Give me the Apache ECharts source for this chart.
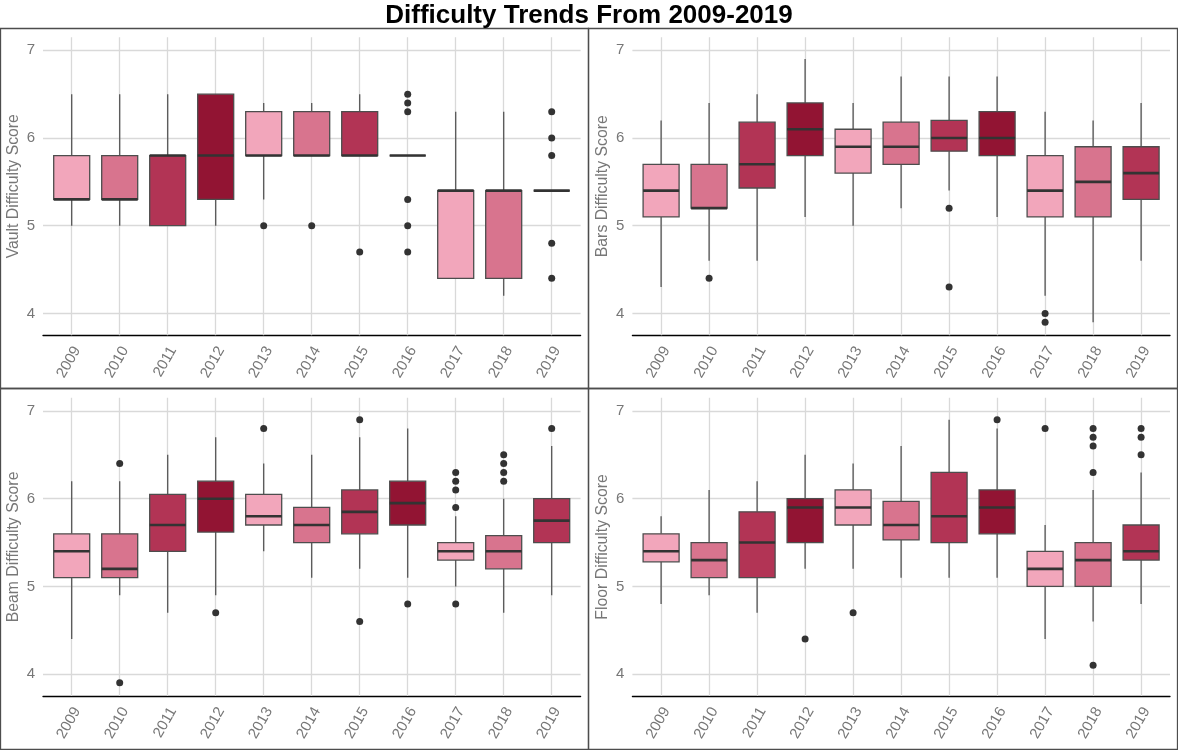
<!DOCTYPE html>
<html>
<head>
<meta charset="utf-8">
<script src="https://cdn.jsdelivr.net/npm/echarts@6/dist/echarts.min.js"></script>
<style>
  html, body { margin: 0; padding: 0; background: #fff; }
  #chart { width: 1178px; height: 750px; }
</style>
</head>
<body>
<div id="chart"></div>
<script>
const years = ['2009', '2010', '2011', '2012', '2013', '2014', '2015', '2016', '2017', '2018', '2019'];

// [min whisker, Q1, median, Q3, max whisker]
const vaultBoxes = [
  [5.0, 5.3, 5.3, 5.8, 6.5], [5.0, 5.3, 5.3, 5.8, 6.5], [5.0, 5.0, 5.8, 5.8, 6.5],
  [5.0, 5.3, 5.8, 6.5, 6.5], [5.3, 5.8, 5.8, 6.3, 6.4], [5.8, 5.8, 5.8, 6.3, 6.4],
  [5.8, 5.8, 5.8, 6.3, 6.5], [5.8, 5.8, 5.8, 5.8, 5.8], [4.4, 4.4, 5.4, 5.4, 6.3],
  [4.2, 4.4, 5.4, 5.4, 6.3], [5.4, 5.4, 5.4, 5.4, 5.4]
];
const barsBoxes = [
  [4.3, 5.1, 5.4, 5.7, 6.2], [4.6, 5.2, 5.2, 5.7, 6.4], [4.6, 5.43, 5.7, 6.18, 6.5],
  [5.1, 5.8, 6.1, 6.4, 6.9], [5.0, 5.6, 5.9, 6.1, 6.4], [5.2, 5.7, 5.9, 6.18, 6.7],
  [5.4, 5.85, 6.0, 6.2, 6.7], [5.1, 5.8, 6.0, 6.3, 6.7], [4.2, 5.1, 5.4, 5.8, 6.3],
  [3.9, 5.1, 5.5, 5.9, 6.2], [4.6, 5.3, 5.6, 5.9, 6.4]
];
const beamBoxes = [
  [4.4, 5.1, 5.4, 5.6, 6.2], [4.9, 5.1, 5.2, 5.6, 6.2], [4.7, 5.4, 5.7, 6.05, 6.5],
  [4.9, 5.62, 6.0, 6.2, 6.7], [5.4, 5.7, 5.8, 6.05, 6.4], [5.1, 5.5, 5.7, 5.9, 6.5],
  [5.2, 5.6, 5.85, 6.1, 6.7], [5.1, 5.7, 5.95, 6.2, 6.8], [5.0, 5.3, 5.4, 5.5, 5.8],
  [4.7, 5.2, 5.4, 5.58, 6.0], [4.9, 5.5, 5.75, 6.0, 6.6]
];
const floorBoxes = [
  [4.8, 5.28, 5.4, 5.6, 5.8], [4.9, 5.1, 5.3, 5.5, 6.1], [4.7, 5.1, 5.5, 5.85, 6.2],
  [5.2, 5.5, 5.9, 6.0, 6.5], [5.2, 5.7, 5.9, 6.1, 6.4], [5.1, 5.53, 5.7, 5.97, 6.6],
  [5.1, 5.5, 5.8, 6.3, 6.9], [5.1, 5.6, 5.9, 6.1, 6.8], [4.4, 5.0, 5.2, 5.4, 5.7],
  [4.6, 5.0, 5.3, 5.5, 6.1], [4.8, 5.3, 5.4, 5.7, 6.3]
];

// [year index, score]
const vaultOutliers = [
  [4, 5.0], [5, 5.0], [6, 4.7],
  [7, 6.5], [7, 6.4], [7, 6.3], [7, 5.3], [7, 5.0], [7, 4.7],
  [10, 6.3], [10, 6.0], [10, 5.8], [10, 4.8], [10, 4.4]
];
const barsOutliers = [
  [1, 4.4], [6, 5.2], [6, 4.3], [8, 4.0], [8, 3.9]
];
const beamOutliers = [
  [1, 6.4], [1, 3.9], [3, 4.7], [4, 6.8], [6, 6.9], [6, 4.6], [7, 4.8],
  [8, 6.3], [8, 6.2], [8, 6.1], [8, 5.9], [8, 4.8],
  [9, 6.5], [9, 6.4], [9, 6.3], [9, 6.2], [10, 6.8]
];
const floorOutliers = [
  [3, 4.4], [4, 4.7], [7, 6.9], [8, 6.8],
  [9, 6.8], [9, 6.7], [9, 6.6], [9, 6.3], [9, 4.1],
  [10, 6.8], [10, 6.7], [10, 6.5]
];

const yTicks = [4, 5, 6, 7];
const boxColors = ['#F2A6BB', '#D8748E', '#B23455', '#921433'];

const panels = [
  { name: 'Vault Difficulty Score', boxes: vaultBoxes, outliers: vaultOutliers, left: 43, top: 50.3 },
  { name: 'Bars Difficulty Score', boxes: barsBoxes, outliers: barsOutliers, left: 632.4, top: 50.3 },
  { name: 'Beam Difficulty Score', boxes: beamBoxes, outliers: beamOutliers, left: 43, top: 411 },
  { name: 'Floor Difficulty Score', boxes: floorBoxes, outliers: floorOutliers, left: 632.4, top: 411 }
];

const FONT = 'Liberation Sans, Arial, Helvetica, sans-serif';
const UNIT = 87.7;          // px per score point
const Y_LO = 3.75, Y_HI = 7.15;

function renderBox(params, api) {
  const i = api.value(0);
  const half = api.size([1, 0])[0] * 0.375;
  const lo = api.coord([i, api.value(1)]);
  const q1 = api.coord([i, api.value(2)]);
  const md = api.coord([i, api.value(3)]);
  const q3 = api.coord([i, api.value(4)]);
  const hi = api.coord([i, api.value(5)]);
  const x = lo[0];
  const whisker = { stroke: '#555', lineWidth: 1.3 };
  return {
    type: 'group',
    children: [
      { type: 'line', shape: { x1: x, y1: hi[1], x2: x, y2: q3[1] }, style: whisker },
      { type: 'line', shape: { x1: x, y1: q1[1], x2: x, y2: lo[1] }, style: whisker },
      {
        type: 'rect',
        shape: { x: x - half, y: q3[1], width: half * 2, height: q1[1] - q3[1] },
        style: { fill: boxColors[i % 4], stroke: '#4d4d4d', lineWidth: 1.3 }
      },
      { type: 'line', shape: { x1: x - half, y1: md[1], x2: x + half, y2: md[1] }, style: { stroke: '#333', lineWidth: 2.6 } }
    ]
  };
}

const grid = [], xAxis = [], yAxis = [], series = [];

panels.forEach((p, k) => {
  const fi = 2 * k, ci = 2 * k + 1;
  const frameH = 3 * UNIT;
  const catTop = p.top - (Y_HI - 7) * UNIT;
  const catH = (Y_HI - Y_LO) * UNIT;

  // frame: horizontal grid lines, y labels, black x axis line
  grid.push({ left: p.left, top: p.top, width: 537.6, height: frameH });
  // boxes
  grid.push({ left: p.left + 4.7, top: catTop, width: 528, height: catH });

  xAxis.push({
    type: 'value', gridIndex: fi, min: 0, max: 1, offset: (4 - Y_LO) * UNIT,
    axisLine: { show: true, lineStyle: { color: '#000', width: 1.3 } },
    axisTick: { show: false }, axisLabel: { show: false }, splitLine: { show: false }
  });
  xAxis.push({
    type: 'category', gridIndex: ci, data: years, boundaryGap: true,
    axisLine: { show: false },
    axisTick: { show: true, alignWithLabel: true, inside: true, length: catH, lineStyle: { color: '#d9d9d9', width: 1.3 } },
    axisLabel: {
      interval: 0, rotate: 60, margin: 22, padding: [0, -11, 0, 0],
      fontSize: 15, color: '#777', fontFamily: FONT
    },
    splitLine: { show: false }
  });

  yAxis.push({
    type: 'value', gridIndex: fi, min: yTicks[0], max: yTicks[yTicks.length - 1], interval: 1,
    axisLine: { show: false }, axisTick: { show: false },
    axisLabel: { fontSize: 15, color: '#777', margin: 8, fontFamily: FONT },
    splitLine: { lineStyle: { color: '#d9d9d9', width: 1.3 } }
  });
  yAxis.push({
    type: 'value', gridIndex: ci, min: Y_LO, max: Y_HI,
    name: p.name, nameLocation: 'middle', nameGap: 26,
    nameTextStyle: { fontSize: 15.8, color: '#777', fontFamily: FONT },
    axisLine: { show: false }, axisTick: { show: false }, axisLabel: { show: false }, splitLine: { show: false }
  });

  series.push({
    type: 'custom', xAxisIndex: ci, yAxisIndex: ci,
    renderItem: renderBox,
    encode: { x: 0, y: [1, 2, 3, 4, 5] },
    data: p.boxes.map((b, i) => [i].concat(b)),
    z: 2
  });
  series.push({
    type: 'scatter', xAxisIndex: ci, yAxisIndex: ci,
    data: p.outliers, symbolSize: 7,
    itemStyle: { color: '#333', opacity: 1 },
    z: 3
  });
});

const chart = echarts.init(document.getElementById('chart'), null, { renderer: 'canvas' });
chart.setOption({
  animation: false,
  backgroundColor: '#fff',
  title: {
    text: 'Difficulty Trends From 2009-2019',
    left: 'center', top: -2,
    textStyle: { fontSize: 26, fontWeight: 'bold', color: '#000', fontFamily: FONT }
  },
  graphic: [
    { type: 'rect', shape: { x: 0.5, y: 28.5, width: 588, height: 360 }, style: { fill: 'none', stroke: '#4d4d4d', lineWidth: 1.3 }, silent: true },
    { type: 'rect', shape: { x: 588.5, y: 28.5, width: 589, height: 360 }, style: { fill: 'none', stroke: '#4d4d4d', lineWidth: 1.3 }, silent: true },
    { type: 'rect', shape: { x: 0.5, y: 388.5, width: 588, height: 361 }, style: { fill: 'none', stroke: '#4d4d4d', lineWidth: 1.3 }, silent: true },
    { type: 'rect', shape: { x: 588.5, y: 388.5, width: 589, height: 361 }, style: { fill: 'none', stroke: '#4d4d4d', lineWidth: 1.3 }, silent: true }
  ],
  grid, xAxis, yAxis, series
});
</script>
</body>
</html>
